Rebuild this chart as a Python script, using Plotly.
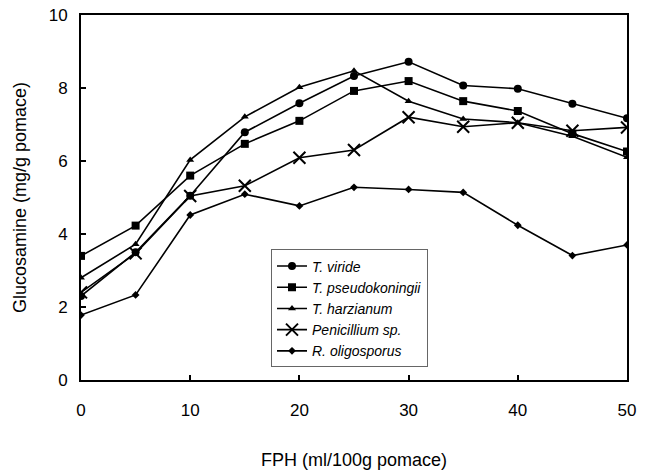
import plotly.graph_objects as go

fph = [0, 5, 10, 15, 20, 25, 30, 35, 40, 45, 50]
t_viride = [2.3, 3.5, 5.05, 6.79, 7.58, 8.33, 8.72, 8.07, 7.98, 7.57, 7.17]
t_pseudo = [3.4, 4.23, 5.6, 6.47, 7.10, 7.92, 8.19, 7.64, 7.37, 6.75, 6.26]
t_harz = [2.8, 3.72, 6.03, 7.21, 8.02, 8.47, 7.64, 7.15, 7.05, 6.68, 6.10]
penicillium = [2.4, 3.47, 5.04, 5.32, 6.09, 6.30, 7.20, 6.94, 7.05, 6.83, 6.92]
r_oligo = [1.78, 2.33, 4.52, 5.09, 4.77, 5.28, 5.22, 5.14, 4.24, 3.41, 3.70]

series = [
    ("<i>T. viride</i>", t_viride, "circle", 8),
    ("<i>T. pseudokoningii</i>", t_pseudo, "square", 8),
    ("<i>T. harzianum</i>", t_harz, "triangle-up", 7),
    ("<i>Penicillium sp.</i>", penicillium, "x-thin", 12),
    ("<i>R. oligosporus</i>", r_oligo, "diamond", 6),
]

FONT = "Liberation Sans, Arial"

fig = go.Figure()
for name, ys, sym, sz in series:
    fig.add_trace(go.Scatter(
        x=fph, y=ys, name=name, mode="lines+markers",
        line=dict(color="black", width=1.6),
        marker=dict(symbol=sym, size=sz, color="black",
                    line=dict(color="black", width=2 if sym == "x-thin" else 0)),
    ))

axis_common = dict(
    showline=True, linecolor="black", linewidth=2, mirror=True,
    ticks="inside", ticklen=5, tickwidth=1.5, tickcolor="black",
    showgrid=False, zeroline=False, automargin=False,
    tickfont=dict(family=FONT, size=17, color="black"),
)
fig.update_xaxes(range=[0, 50], tickvals=[0, 10, 20, 30, 40, 50],
                 ticklabelstandoff=14,
                 title=dict(text="FPH (ml/100g pomace)", standoff=34,
                            font=dict(family=FONT, size=18, color="black")),
                 **axis_common)
fig.update_yaxes(range=[0, 10], tickvals=[0, 2, 4, 6, 8, 10],
                 ticklabelstandoff=8,
                 title=dict(text="Glucosamine (mg/g pomace)", standoff=17,
                            font=dict(family=FONT, size=18, color="black")),
                 **axis_common)
fig.update_layout(
    width=645, height=475,
    margin=dict(l=81, r=18, t=15, b=95),
    paper_bgcolor="white", plot_bgcolor="white",
    showlegend=True,
    legend=dict(x=0.348, y=0.196, xanchor="left", yanchor="middle",
                bordercolor="#666", borderwidth=1, bgcolor="white",
                font=dict(family=FONT, size=14, color="black"),
                tracegroupgap=0, itemwidth=30),
)
fig.write_html("out.html")
